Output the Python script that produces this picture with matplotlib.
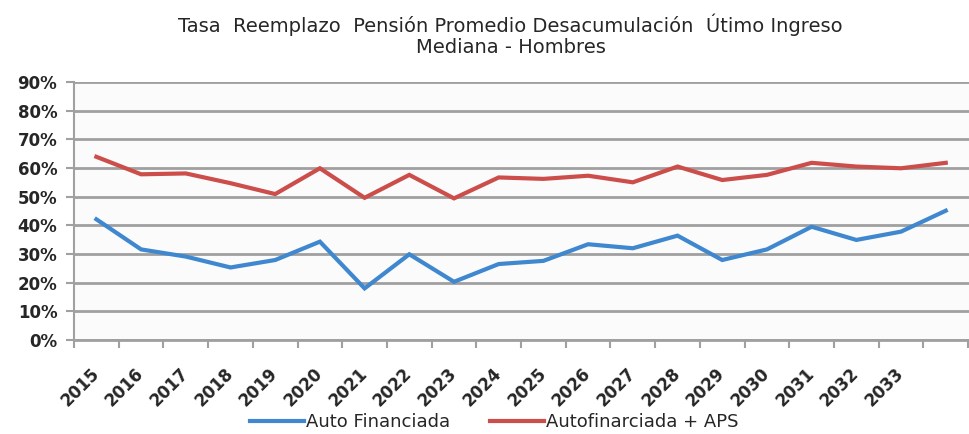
import matplotlib

matplotlib.use("Agg")
import matplotlib.pyplot as plt
import numpy as np
from matplotlib.ticker import PercentFormatter

# years on the category axis (the last category has no label in the source)
years = ["2015", "2016", "2017", "2018", "2019", "2020", "2021", "2022", "2023",
         "2024", "2025", "2026", "2027", "2028", "2029", "2030", "2031", "2032",
         "2033", ""]

auto_financiada = [42.1, 31.6, 29.1, 25.3, 27.9, 34.3, 18.0, 29.9, 20.3, 26.5,
                   27.6, 33.4, 32.0, 36.4, 27.9, 31.6, 39.5, 34.9, 37.8, 45.1]
auto_aps = [63.9, 57.8, 58.1, 54.7, 50.9, 59.9, 49.6, 57.6, 49.4, 56.7,
            56.2, 57.3, 55.0, 60.5, 55.8, 57.6, 61.8, 60.5, 59.9, 61.8]

series_names = ["Auto Financiada", "Autofinarciada + APS"]

BLUE = "#3f88cf"
RED = "#cc4e4b"
GRID = "#a0a0a0"
TXT = "#262626"

fig = plt.figure(figsize=(9.69, 4.34), dpi=100)
ax = fig.add_axes([0.0764, 0.2166, 0.9236, 0.5945])

x = np.arange(len(years))
ax.plot(x, auto_financiada, color=BLUE, lw=3, label=series_names[0],
        solid_joinstyle="miter")
ax.plot(x, auto_aps, color=RED, lw=3, label=series_names[1],
        solid_joinstyle="miter")

ax.set_xlim(-0.5, len(years) - 0.5 + 0.02)
ax.set_ylim(0, 90)
ax.set_yticks(np.arange(0, 91, 10))
ax.yaxis.set_major_formatter(PercentFormatter(decimals=0))
ax.grid(True, axis="y", color=GRID, lw=2)
ax.set_axisbelow(True)

# category boundaries as tick marks, labels between them
ax.set_xticks(np.arange(-0.5, len(years), 1.0))
ax.set_xticklabels([])
ax.set_xticks(x, minor=True)
ax.set_xticklabels(years, minor=True, rotation=45, ha="right",
                   va="center", rotation_mode="anchor",
                   fontsize=12, fontweight="bold", color=TXT)
ax.tick_params(axis="x", which="minor", length=0, pad=22)
ax.tick_params(axis="x", which="major", length=6, width=1.5, color=GRID)
ax.tick_params(axis="y", length=6, width=1.5, color=GRID, pad=6,
               labelsize=12, labelcolor=TXT)
for lab in ax.get_yticklabels():
    lab.set_fontweight("bold")

for s in ["top", "right"]:
    ax.spines[s].set_visible(False)
ax.spines["left"].set_color(GRID)
ax.spines["left"].set_linewidth(1.5)
ax.spines["bottom"].set_color(GRID)
ax.spines["bottom"].set_linewidth(2)
ax.set_facecolor("#fbfbfb")

fig.text(0.527, 0.942, "Tasa  Reemplazo  Pensión Promedio Desacumulación  Útimo Ingreso",
         ha="center", va="center", fontsize=14, color=TXT)
fig.text(0.527, 0.89, "Mediana - Hombres", ha="center", va="center",
         fontsize=14, color=TXT)

leg = fig.legend(loc="center", bbox_to_anchor=(0.51, 0.027), ncol=2,
                 frameon=False, fontsize=13, handlelength=3.0,
                 handletextpad=0.1, columnspacing=2.2)
for t in leg.get_texts():
    t.set_color(TXT)

fig.savefig("out.png", dpi=100)
